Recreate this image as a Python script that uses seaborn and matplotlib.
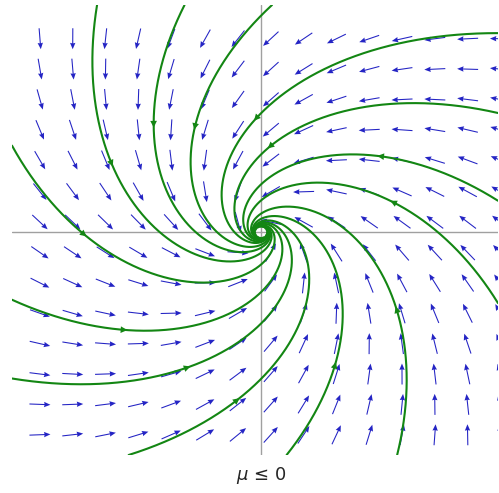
import numpy as np
import pandas as pd
import matplotlib
matplotlib.use("Agg")
import matplotlib.pyplot as plt
import seaborn as sns

# Hopf normal form in polar form: r' = mu*r + a*r^3, theta' = omega + b*r^2
mu, omega, a, b = 0.0, 0.015, -1.1, 1.0

x_lim = (-2.05, 1.95)
y_lim = (-1.98, 2.02)

# direction field grid
grid_x = [-1.82, -1.55, -1.28, -1.01, -0.74, -0.46, -0.19, 0.08,
          0.35, 0.62, 0.89, 1.16, 1.43, 1.70, 1.97]
grid_y = [1.72, 1.45, 1.18, 0.91, 0.64, 0.36, 0.09, -0.18,
          -0.45, -0.72, -0.99, -1.26, -1.53, -1.80]

# trajectory start points and where the arrowhead sits
start_x = [-1.35, -0.63, 0.09, 1.95, 1.95, 1.95, 1.95, 0.21, 1.12, -1.09, -2.05, -2.05, -2.05]
start_y = [2.02, 2.02, 2.02, 1.77, 1.06, 0.28, -0.63, -1.98, -1.98, -1.98, 0.77, -0.60, -1.30]
arrow_frac = [0.56, 0.61, 0.53, 0.38, 0.34, 0.60, 0.54, 0.66, 0.57, 0.66, 0.66, 0.66, 0.55]

green = "#138613"
blue = "#2424c4"


def field(x, y):
    r2 = x * x + y * y
    dx = mu * x - omega * y + (a * x - b * y) * r2
    dy = omega * x + mu * y + (b * x + a * y) * r2
    return dx, dy


def unit_field(x, y):
    dx, dy = field(x, y)
    s = np.hypot(dx, dy)
    return dx / s, dy / s


def trajectory(x0, y0, ds=0.003, r_stop=0.05, n_max=20000):
    # integrate along arc length so the slow part near the origin stays cheap
    pts = [(x0, y0)]
    x, y = x0, y0
    for _ in range(n_max):
        k1 = unit_field(x, y)
        k2 = unit_field(x + ds / 2 * k1[0], y + ds / 2 * k1[1])
        k3 = unit_field(x + ds / 2 * k2[0], y + ds / 2 * k2[1])
        k4 = unit_field(x + ds * k3[0], y + ds * k3[1])
        x += ds / 6 * (k1[0] + 2 * k2[0] + 2 * k3[0] + k4[0])
        y += ds / 6 * (k1[1] + 2 * k2[1] + 2 * k3[1] + k4[1])
        pts.append((x, y))
        if np.hypot(x, y) < r_stop:
            break
    return np.array(pts)


sns.set_style("white")
fig = plt.figure(figsize=(4.99, 4.93), dpi=100)
ax = fig.add_axes([12 / 499, 38 / 493, 486 / 499, 450 / 493])

ax.axhline(0, color="#a0a0a0", lw=1, zorder=1)
ax.axvline(0, color="#a0a0a0", lw=1, zorder=1)

# direction field, unit arrows in screen space
gx, gy = np.meshgrid(grid_x, grid_y)
u, v = field(gx, gy)
u_px = u * 121.5
v_px = v * 112.5
n = np.hypot(u_px, v_px)
ax.quiver(gx, gy, u_px / n, v_px / n, angles="uv", scale_units="inches",
          scale=1 / 0.21, pivot="middle", color=blue, width=0.0022,
          headwidth=5, headlength=6, headaxislength=5.5, zorder=2)

rows = []
trajs = []
for i, (x0, y0) in enumerate(zip(start_x, start_y)):
    p = trajectory(x0, y0)
    trajs.append(p)
    rows.append(pd.DataFrame({"x": p[:, 0], "y": p[:, 1], "traj": i}))
df = pd.concat(rows, ignore_index=True)

sns.lineplot(data=df, x="x", y="y", units="traj", estimator=None, sort=False,
             color=green, lw=1.5, ax=ax, zorder=3, legend=False)

for p, f in zip(trajs, arrow_frac):
    r = np.hypot(p[:, 0], p[:, 1])
    j = int(np.argmax(r < f * r[0]))
    ax.annotate("", xy=p[j + 3], xytext=p[j],
                arrowprops=dict(arrowstyle="-|>", color=green, lw=0,
                                mutation_scale=12, shrinkA=0, shrinkB=0),
                zorder=4)

ax.set_xlim(*x_lim)
ax.set_ylim(*y_lim)
ax.set_xlabel("")
ax.set_ylabel("")
ax.set_xticks([])
ax.set_yticks([])
for s in ax.spines.values():
    s.set_visible(False)

fig.text(0.523, 0.036, r"$\mu$ ≤ 0", ha="center", va="center", fontsize=13)

fig.savefig("out.png", dpi=100)
